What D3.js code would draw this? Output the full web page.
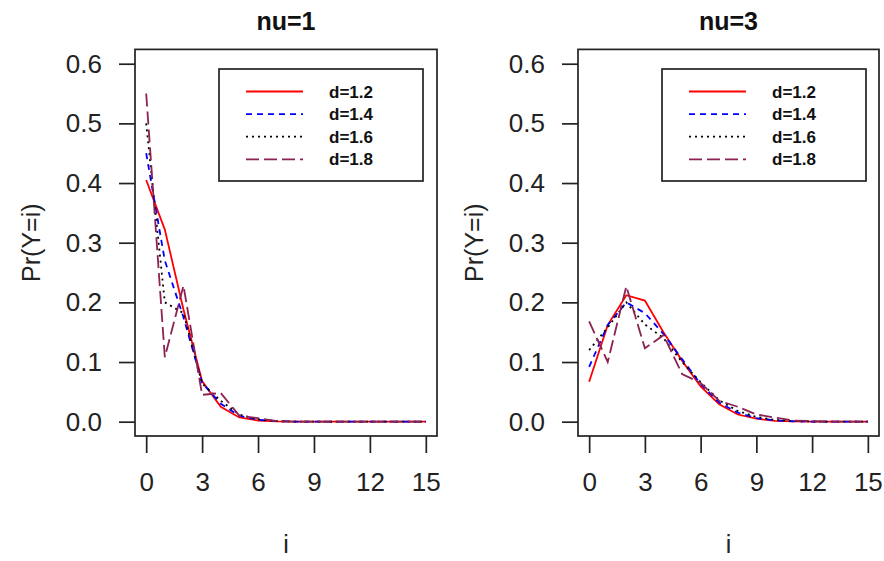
<!DOCTYPE html>
<html>
<head>
<meta charset="utf-8">
<script src="https://cdn.jsdelivr.net/npm/d3@7.9.0/dist/d3.min.js"></script>
<style>
  body { margin: 0; background: #fff; }
  svg { display: block; font-family: Arial, "Liberation Sans", sans-serif; }
</style>
</head>
<body>
<svg id="chart" width="884" height="561"></svg>
<script>
// values, i = 0..15
const iValues = [0, 1, 2, 3, 4, 5, 6, 7, 8, 9, 10, 11, 12, 13, 14, 15];

const nu1_d12 = [0.405, 0.322, 0.188, 0.068, 0.025, 0.007, 0.002, 0.0005, 0, 0, 0, 0, 0, 0, 0, 0];
const nu1_d14 = [0.450, 0.270, 0.175, 0.065, 0.030, 0.010, 0.003, 0.001, 0, 0, 0, 0, 0, 0, 0, 0];
const nu1_d16 = [0.500, 0.200, 0.182, 0.064, 0.035, 0.012, 0.004, 0.001, 0, 0, 0, 0, 0, 0, 0, 0];
const nu1_d18 = [0.550, 0.108, 0.228, 0.045, 0.048, 0.010, 0.006, 0.001, 0, 0, 0, 0, 0, 0, 0, 0];

const nu3_d12 = [0.067, 0.162, 0.212, 0.203, 0.150, 0.102, 0.059, 0.029, 0.012, 0.005, 0.0015, 0.0005, 0, 0, 0, 0];
const nu3_d14 = [0.092, 0.162, 0.200, 0.182, 0.147, 0.105, 0.063, 0.032, 0.015, 0.006, 0.002, 0.0007, 0.0002, 0, 0, 0];
const nu3_d16 = [0.120, 0.158, 0.200, 0.163, 0.140, 0.100, 0.066, 0.036, 0.018, 0.008, 0.003, 0.001, 0.0003, 0, 0, 0];
const nu3_d18 = [0.168, 0.100, 0.227, 0.123, 0.145, 0.080, 0.065, 0.035, 0.025, 0.012, 0.007, 0.002, 0.001, 0, 0, 0];

const dLabels = ['d=1.2', 'd=1.4', 'd=1.6', 'd=1.8'];
const panelTitles = ['nu=1', 'nu=3'];
const xTicks = [0, 3, 6, 9, 12, 15];
const yTicks = [0, 0.1, 0.2, 0.3, 0.4, 0.5, 0.6];

// R line types: solid, dashed, dotted, longdash
const lineColors = ['#ff0000', '#0000ff', '#000000', '#8b2252'];
const lineDash = [null, '6,5', '2,4', '13,5'];

const svg = d3.select('#chart');

const panels = [
  { title: panelTitles[0], series: [nu1_d12, nu1_d14, nu1_d16, nu1_d18], left: 135, right: 437 },
  { title: panelTitles[1], series: [nu3_d12, nu3_d14, nu3_d16, nu3_d18], left: 578, right: 879 }
];

const plotTop = 49.4;
const plotBottom = 436;

panels.forEach((p) => {
  // R pads the axis range by 4% on each side
  let x = d3.scaleLinear().domain([-0.6, 15.6]).range([p.left, p.right]);
  let y = d3.scaleLinear().domain([-0.024, 0.624]).range([plotBottom, plotTop]);

  let g = svg.append('g');

  let line = d3.line()
    .x((d, k) => x(iValues[k]))
    .y((d) => y(d));

  p.series.forEach((s, k) => {
    g.append('path')
      .datum(s)
      .attr('d', line)
      .attr('fill', 'none')
      .attr('stroke', lineColors[k])
      .attr('stroke-width', 1.8)
      .attr('stroke-dasharray', lineDash[k]);
  });

  // frame
  g.append('rect')
    .attr('x', p.left)
    .attr('y', plotTop)
    .attr('width', p.right - p.left)
    .attr('height', plotBottom - plotTop)
    .attr('fill', 'none')
    .attr('stroke', '#222')
    .attr('stroke-width', 1.7);

  let yAxis = g.append('g')
    .attr('transform', `translate(${p.left},0)`)
    .call(d3.axisLeft(y).tickValues(yTicks).tickSize(16).tickPadding(17).tickFormat(d3.format('.1f')));

  let xAxis = g.append('g')
    .attr('transform', `translate(0,${plotBottom})`)
    .call(d3.axisBottom(x).tickValues(xTicks).tickSize(17).tickPadding(20));

  [yAxis, xAxis].forEach((a) => {
    a.select('.domain').remove();
    a.selectAll('line').attr('stroke', '#222').attr('stroke-width', 1.7);
    a.selectAll('text')
      .attr('fill', '#222')
      .style('font-size', '26px')
      .style('font-family', 'Arial, "Liberation Sans", sans-serif');
  });

  let cx = (p.left + p.right) / 2;

  g.append('text')
    .attr('x', cx)
    .attr('y', 30)
    .attr('text-anchor', 'middle')
    .style('font-size', '25px')
    .style('font-weight', 'bold')
    .attr('fill', '#111')
    .text(p.title);

  g.append('text')
    .attr('x', cx)
    .attr('y', 553)
    .attr('text-anchor', 'middle')
    .style('font-size', '25px')
    .attr('fill', '#222')
    .text('i');

  g.append('text')
    .attr('transform', `translate(${p.left - 95},${(plotTop + plotBottom) / 2}) rotate(-90)`)
    .attr('text-anchor', 'middle')
    .style('font-size', '25px')
    .attr('fill', '#222')
    .text('Pr(Y=i)');

  // legend
  let lx = p.left + 84;
  let legend = g.append('g');
  legend.append('rect')
    .attr('x', lx)
    .attr('y', 69)
    .attr('width', 204)
    .attr('height', 112)
    .attr('fill', '#fff')
    .attr('stroke', '#222')
    .attr('stroke-width', 1.7);

  dLabels.forEach((label, k) => {
    let ly = 91.5 + k * 22.6;
    legend.append('line')
      .attr('x1', lx + 27)
      .attr('x2', lx + 84)
      .attr('y1', ly)
      .attr('y2', ly)
      .attr('stroke', lineColors[k])
      .attr('stroke-width', 1.8)
      .attr('stroke-dasharray', lineDash[k]);
    legend.append('text')
      .attr('x', lx + 110)
      .attr('y', ly + 6)
      .style('font-size', '17px')
      .style('font-weight', 'bold')
      .attr('fill', '#111')
      .text(label);
  });
});
</script>
</body>
</html>
